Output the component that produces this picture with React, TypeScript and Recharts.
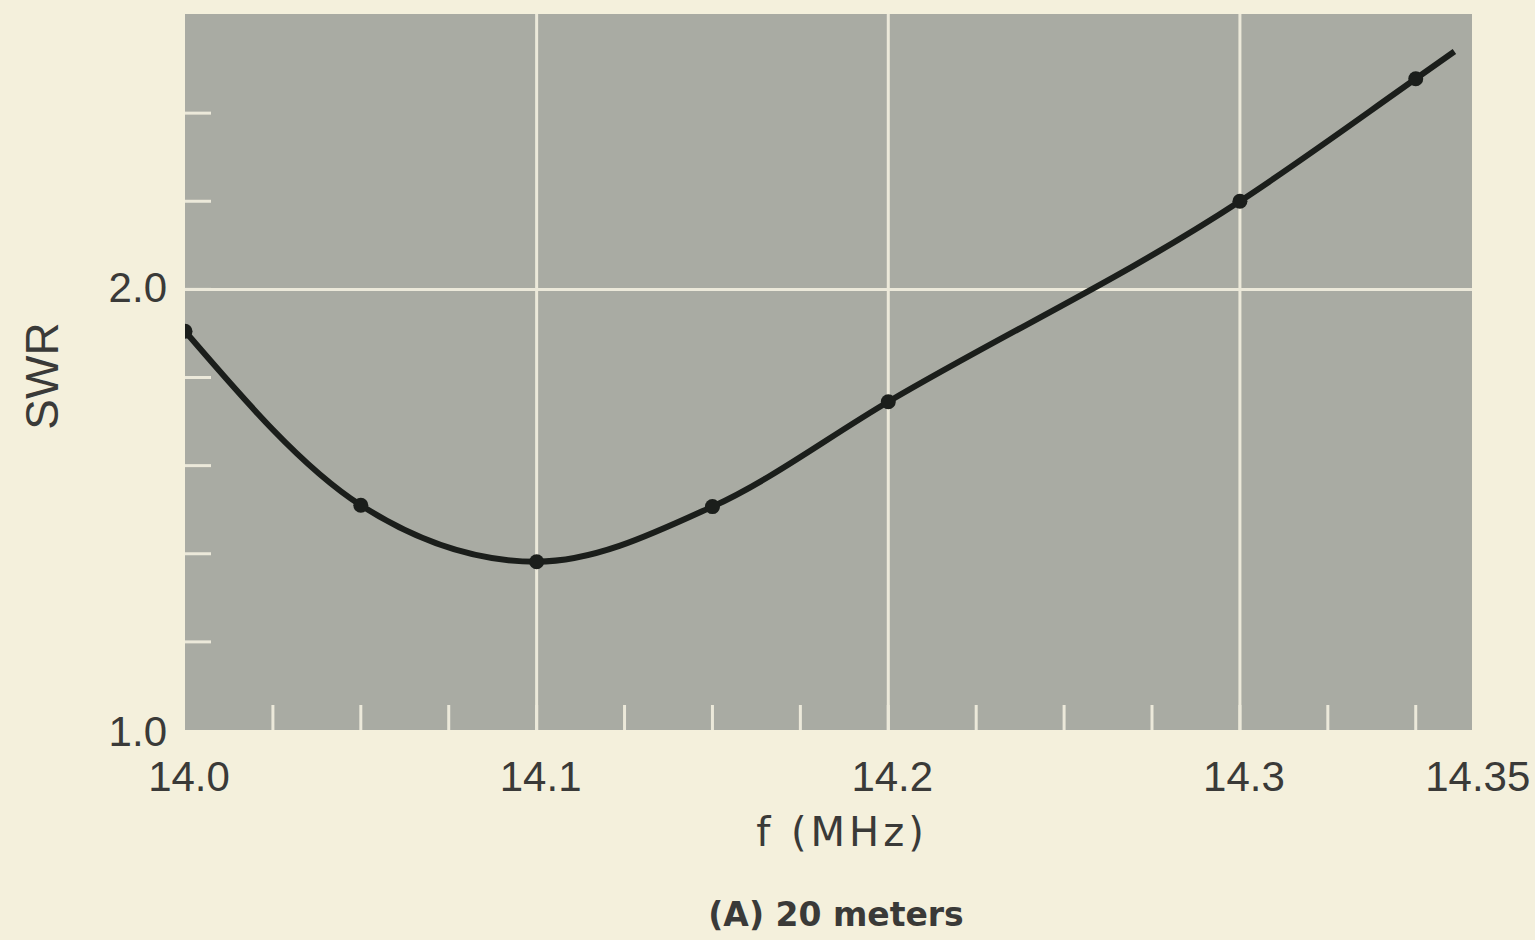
import React from "react";
import { ComposedChart, Line, Scatter, XAxis, YAxis, CartesianGrid } from "recharts";

// measured points (dots on the curve)
const markerFreq = [14.0, 14.05, 14.1, 14.15, 14.2, 14.3, 14.35];
const markerSwr = [1.905, 1.51, 1.382, 1.507, 1.745, 2.2, 2.478];

// the drawn curve runs a little past the last marker
const curveFreq = [14.0, 14.05, 14.1, 14.15, 14.2, 14.3, 14.35, 14.361];
const curveSwr = [1.905, 1.51, 1.382, 1.507, 1.745, 2.2, 2.478, 2.54];

const xTicks = [14.0, 14.025, 14.05, 14.075, 14.1, 14.125, 14.15, 14.175, 14.2, 14.225, 14.25, 14.275, 14.3, 14.325, 14.35];
const xLabels = ["14.0", "14.1", "14.2", "14.3", "14.35"];
const yTicks = [1.0, 1.2, 1.4, 1.6, 1.8, 2.0, 2.2, 2.4];
const yLabels = ["1.0", "2.0"];

const paper = "#f4f0dc";
const plotGray = "#a9aba3";
const gridColor = "#ece9da";
const ink = "#3a3a38";
const curveInk = "#1b1e1b";

const markers = markerFreq.map((f, i) => ({ f, swr: markerSwr[i] }));
const curve = curveFreq.map((f, i) => ({ f, swr: curveSwr[i] }));

const tickFont = { fontFamily: "'Liberation Sans', Arial, sans-serif", fontSize: 42, fill: ink };

const fmtX = (v: number) => (Math.abs(v - 14.35) < 1e-6 ? "14.35" : v.toFixed(1));

const XTick = (props: any) => {
  const { x, y, payload } = props;
  const v = payload.value as number;
  const label = fmtX(v);
  const isMajor = Math.abs(v * 10 - Math.round(v * 10)) < 1e-6 || label === "14.35";
  const shift = label === "14.35" ? 62 : 4;
  return (
    <g>
      {v > 14.0001 && <line x1={x} x2={x} y1={y} y2={y - 25} stroke={gridColor} strokeWidth={3} />}
      {isMajor && xLabels.includes(label) && (
        <text x={x + shift} y={y + 46} textAnchor="middle" dominantBaseline="central" {...tickFont}>
          {label}
        </text>
      )}
    </g>
  );
};

const YTick = (props: any) => {
  const { x, y, payload } = props;
  const v = payload.value as number;
  const label = v.toFixed(1);
  return (
    <g>
      {v > 1.0001 && <line x1={x} x2={x + 26} y1={y} y2={y} stroke={gridColor} strokeWidth={3} />}
      {yLabels.includes(label) && (
        <text x={x - 18} y={label === "1.0" ? y + 1 : y - 2} textAnchor="end" dominantBaseline="central" {...tickFont}>
          {label}
        </text>
      )}
    </g>
  );
};

export default function App() {
  return (
    <div style={{ position: "absolute", left: 0, top: 0, width: 1535, height: 940, background: paper, overflow: "hidden" }}>
      <ComposedChart
        width={1535}
        height={940}
        margin={{ top: 14, right: 63, left: 184, bottom: 209 }}
      >
        <CartesianGrid
          fill={plotGray}
          stroke={gridColor}
          strokeWidth={3}
          horizontalValues={[2.0]}
          verticalValues={[14.1, 14.2, 14.3]}
        />
        <XAxis
          dataKey="f"
          type="number"
          domain={[14.0, 14.366]}
          allowDataOverflow
          ticks={xTicks}
          interval={0}
          height={1}
          tickSize={0}
          tickMargin={0}
          axisLine={false}
          tickLine={false}
          tick={<XTick />}
        />
        <YAxis
          dataKey="swr"
          type="number"
          domain={[1.0, 2.625]}
          allowDataOverflow
          ticks={yTicks}
          interval={0}
          width={1}
          tickSize={0}
          tickMargin={0}
          axisLine={false}
          tickLine={false}
          tick={<YTick />}
        />
        <Line
          data={curve}
          dataKey="swr"
          type="monotone"
          stroke={curveInk}
          strokeWidth={6}
          dot={false}
          activeDot={false}
          isAnimationActive={false}
        />
        <Scatter
          data={markers}
          dataKey="swr"
          fill={curveInk}
          isAnimationActive={false}
          shape={(p: any) => <circle cx={p.cx} cy={p.cy} r={7.5} fill={curveInk} />}
        />
      </ComposedChart>
      <div
        style={{
          position: "absolute",
          left: 42,
          top: 376,
          transform: "translate(-50%, -50%) rotate(-90deg)",
          fontFamily: "'Liberation Sans', Arial, sans-serif",
          fontSize: 46,
          color: ink,
          whiteSpace: "nowrap",
        }}
      >
        SWR
      </div>
      <div
        style={{
          position: "absolute",
          left: 842,
          top: 832,
          transform: "translate(-50%, -50%)",
          fontFamily: "'DejaVu Sans', sans-serif",
          fontSize: 40,
          letterSpacing: 4,
          color: ink,
          whiteSpace: "nowrap",
        }}
      >
        f (MHz)
      </div>
      <div
        style={{
          position: "absolute",
          left: 836,
          top: 914,
          transform: "translate(-50%, -50%)",
          fontFamily: "'DejaVu Sans', sans-serif",
          fontWeight: "bold",
          fontSize: 33,
          color: ink,
          whiteSpace: "nowrap",
        }}
      >
        (A) 20 meters
      </div>
    </div>
  );
}
